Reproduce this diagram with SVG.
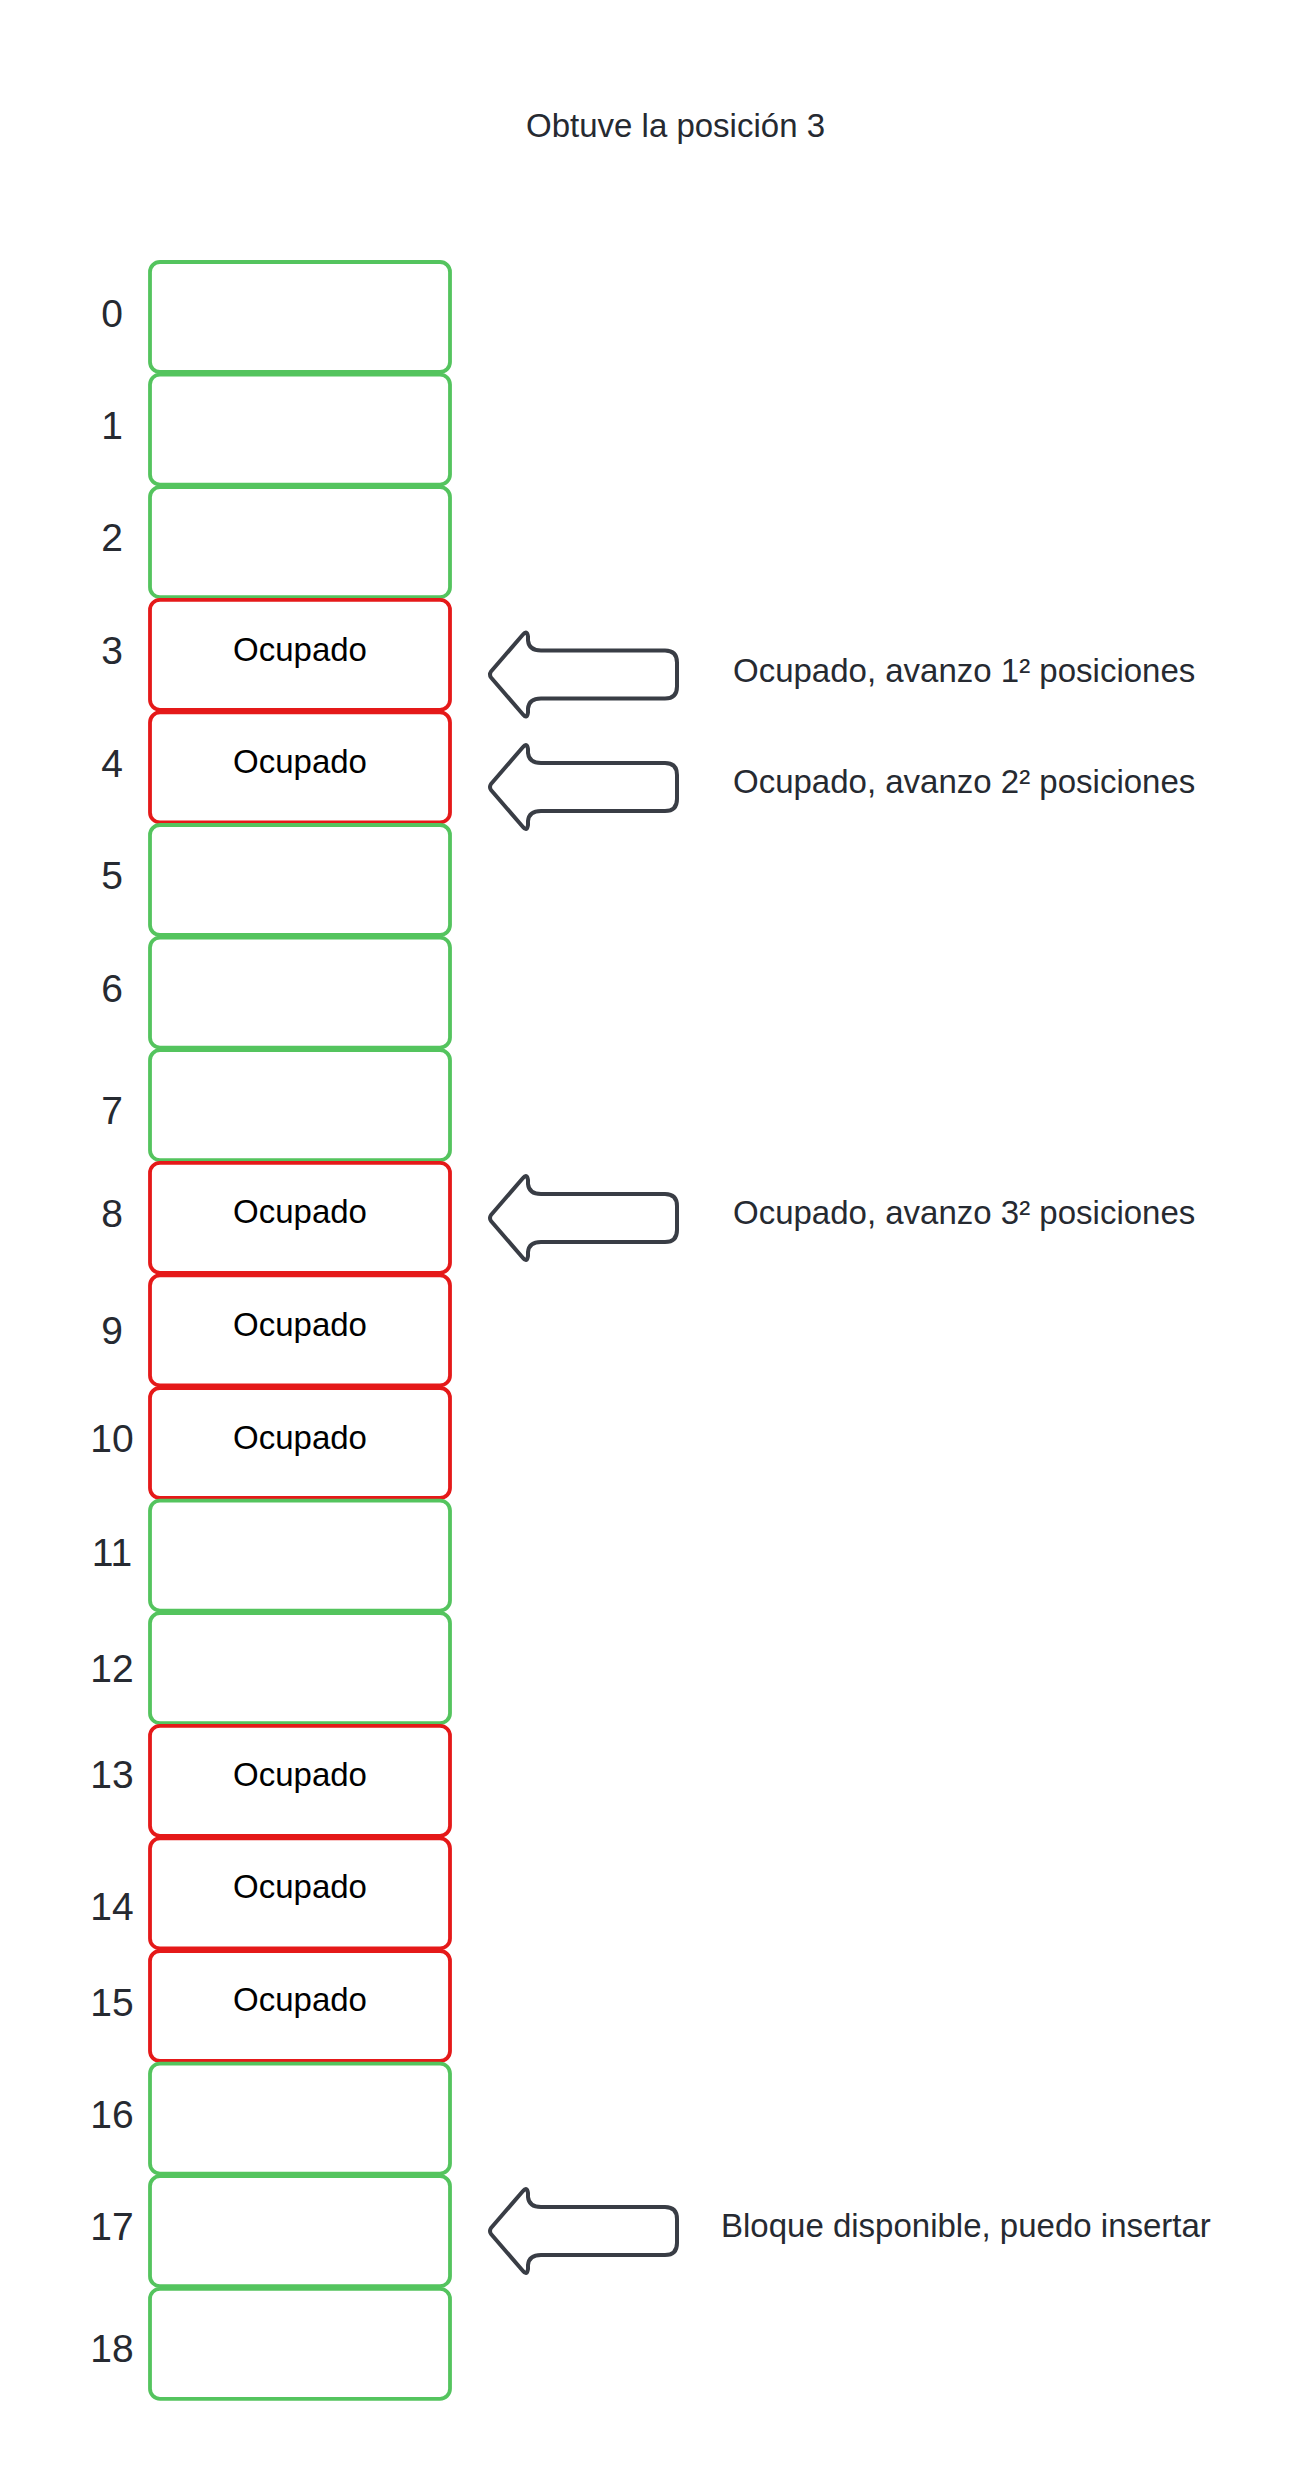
<svg xmlns="http://www.w3.org/2000/svg" xmlns:xlink="http://www.w3.org/1999/xlink" width="1313" height="2475" viewBox="0 0 1313 2475">
<style>
.free{fill:#ffffff;stroke:#54c45e;stroke-width:3.8}
.busy{fill:#ffffff;stroke:#e51919;stroke-width:3.8}
.idx{font-family:"Liberation Sans",Arial,sans-serif;font-size:39px;fill:#262a31;text-anchor:middle}
.occ{font-family:"Liberation Sans",Arial,sans-serif;font-size:33px;fill:#000000;text-anchor:middle}
.note{font-family:"Liberation Sans",Arial,sans-serif;font-size:33px;fill:#262a31}
.arr{fill:#ffffff;stroke:#393d45;stroke-width:4;stroke-linejoin:round}
</style>
<defs>
<path id="blockArrow" d="M 491,-3 L 523,-40 Q 527,-45 528,-38 L 528,-34 Q 529,-24 541,-24 L 665,-24 Q 677,-24 677,-12 L 677,12 Q 677,24 665,24 L 541,24 Q 529,24 528,34 L 528,38 Q 527,45 523,40 L 491,3 Q 489,0 491,-3 Z"/>
</defs>
<rect width="1313" height="2475" fill="#ffffff"/>
<g id="title"><text class="note" x="526" y="137">Obtuve la posición 3</text></g>

<g id="slot-0"><rect class="free" x="150" y="262" width="300" height="110" rx="10"/><text class="idx" x="112" y="327">0</text></g>
<g id="slot-1"><rect class="free" x="150" y="374.6" width="300" height="110" rx="10"/><text class="idx" x="112" y="439">1</text></g>
<g id="slot-2"><rect class="free" x="150" y="487.2" width="300" height="110" rx="10"/><text class="idx" x="112" y="551">2</text></g>
<g id="slot-3"><rect class="busy" x="150" y="599.8" width="300" height="110" rx="10"/><text class="idx" x="112" y="664">3</text><text class="occ" x="300" y="661">Ocupado</text></g>
<g id="slot-4"><rect class="busy" x="150" y="712.4" width="300" height="110" rx="10"/><text class="idx" x="112" y="777">4</text><text class="occ" x="300" y="773">Ocupado</text></g>
<g id="slot-5"><rect class="free" x="150" y="825" width="300" height="110" rx="10"/><text class="idx" x="112" y="889">5</text></g>
<g id="slot-6"><rect class="free" x="150" y="937.6" width="300" height="110" rx="10"/><text class="idx" x="112" y="1002">6</text></g>
<g id="slot-7"><rect class="free" x="150" y="1050.2" width="300" height="110" rx="10"/><text class="idx" x="112" y="1124">7</text></g>
<g id="slot-8"><rect class="busy" x="150" y="1162.8" width="300" height="110" rx="10"/><text class="idx" x="112" y="1227">8</text><text class="occ" x="300" y="1223">Ocupado</text></g>
<g id="slot-9"><rect class="busy" x="150" y="1275.4" width="300" height="110" rx="10"/><text class="idx" x="112" y="1344">9</text><text class="occ" x="300" y="1336">Ocupado</text></g>
<g id="slot-10"><rect class="busy" x="150" y="1388" width="300" height="110" rx="10"/><text class="idx" x="112" y="1452">10</text><text class="occ" x="300" y="1449">Ocupado</text></g>
<g id="slot-11"><rect class="free" x="150" y="1500.6" width="300" height="110" rx="10"/><text class="idx" x="112" y="1566">11</text></g>
<g id="slot-12"><rect class="free" x="150" y="1613.2" width="300" height="110" rx="10"/><text class="idx" x="112" y="1682">12</text></g>
<g id="slot-13"><rect class="busy" x="150" y="1725.8" width="300" height="110" rx="10"/><text class="idx" x="112" y="1788">13</text><text class="occ" x="300" y="1786">Ocupado</text></g>
<g id="slot-14"><rect class="busy" x="150" y="1838.4" width="300" height="110" rx="10"/><text class="idx" x="112" y="1920">14</text><text class="occ" x="300" y="1898">Ocupado</text></g>
<g id="slot-15"><rect class="busy" x="150" y="1951" width="300" height="110" rx="10"/><text class="idx" x="112" y="2016">15</text><text class="occ" x="300" y="2011">Ocupado</text></g>
<g id="slot-16"><rect class="free" x="150" y="2063.6" width="300" height="110" rx="10"/><text class="idx" x="112" y="2128">16</text></g>
<g id="slot-17"><rect class="free" x="150" y="2176.2" width="300" height="110" rx="10"/><text class="idx" x="112" y="2240">17</text></g>
<g id="slot-18"><rect class="free" x="150" y="2288.8" width="300" height="110" rx="10"/><text class="idx" x="112" y="2362">18</text></g>

<g id="pointer-1"><use xlink:href="#blockArrow" href="#blockArrow" class="arr" transform="translate(0,674.5)"/><text class="note" x="733" y="682">Ocupado, avanzo 1² posiciones</text></g>
<g id="pointer-2"><use xlink:href="#blockArrow" href="#blockArrow" class="arr" transform="translate(0,787)"/><text class="note" x="733" y="793">Ocupado, avanzo 2² posiciones</text></g>
<g id="pointer-3"><use xlink:href="#blockArrow" href="#blockArrow" class="arr" transform="translate(0,1218)"/><text class="note" x="733" y="1224">Ocupado, avanzo 3² posiciones</text></g>
<g id="pointer-4"><use xlink:href="#blockArrow" href="#blockArrow" class="arr" transform="translate(0,2231)"/><text class="note" x="721" y="2237">Bloque disponible, puedo insertar</text></g>
<g id="connectors"></g>
</svg>
